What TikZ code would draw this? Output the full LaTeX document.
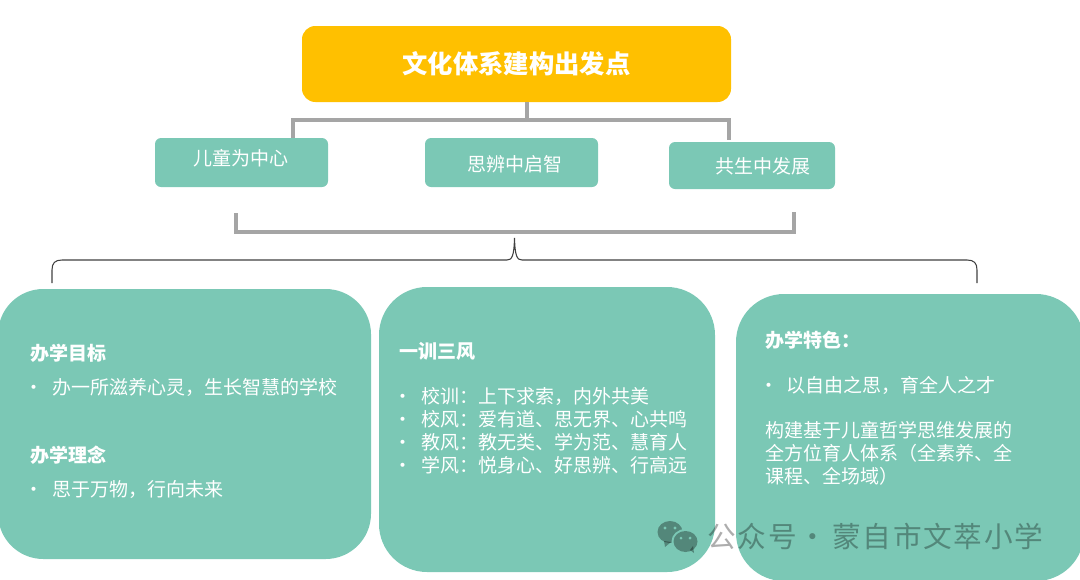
\documentclass[tikz,border=0pt]{standalone}
\usepackage{fontspec}
\setmainfont{Noto Sans CJK SC}
\newfontfamily\markfont[LetterSpace=6]{Noto Sans CJK SC}
\definecolor{boxgreen}{HTML}{7BC8B5}
\definecolor{titleorange}{HTML}{FFC000}
\definecolor{linegray}{HTML}{A5A5A5}
\definecolor{bracedark}{HTML}{404040}
\tikzset{
  titlebox/.style={fill=titleorange, rounded corners=10pt, minimum width=321.75pt, minimum height=57pt, inner sep=0pt},
  smallbox/.style={fill=boxgreen, rounded corners=4.5pt, inner sep=0pt},
  bigbox/.style={fill=boxgreen, rounded corners=36pt},
  linktree/.style={draw=linegray, line width=2.35pt},
  bracket/.style={draw=bracedark, line width=.8pt},
  bodytxt/.style={anchor=base west, inner sep=0pt, text=white, font=\fontsize{14.25pt}{14.25pt}\selectfont},
  headtxt/.style={bodytxt, font=\fontsize{14.25pt}{14.25pt}\selectfont\bfseries},
  marktxt/.style={anchor=base west, inner sep=0pt, text=black, text opacity=.32, font=\markfont\fontsize{21.5pt}{21.5pt}\selectfont},
}
\begin{document}
\begin{tikzpicture}[x=.75pt, y=-.75pt]
\useasboundingbox (0,0) rectangle (1080,579);

% big panels
\fill[bigbox, rounded corners=34pt] (-2,289) rectangle (371,559);
\fill[bigbox] (379,287) rectangle (715,572);
\fill[bigbox] (736,294) rectangle (1084,581);

% top part
\node[titlebox] (title) at (516.5,64) {};
\node[anchor=center, inner sep=0pt, text=white, font=\fontsize{19pt}{19pt}\selectfont\bfseries] (titletxt) at (title.center) {文化体系建构出发点};
\node[smallbox, minimum width=129.75pt, minimum height=36.75pt] (ertong) at (241.5,162.5) {};
\node[smallbox, minimum width=129.75pt, minimum height=36.75pt] (sibian) at (511.5,162.5) {};
\node[smallbox, minimum width=124.5pt, minimum height=35.25pt] (gongsheng) at (752,165.5) {};
\node[bodytxt] (ertongtxt) at (193,165) {儿童为中心};
\node[bodytxt] (sibiantxt) at (467,171) {思辨中启智};
\node[bodytxt] (gongshengtxt) at (715,173) {共生中发展};

% links
\coordinate (stem) at (527,120);
\coordinate (jl) at (293,120);
\coordinate (jr) at (729,120);
\draw[linktree] (title.south -| stem) -- (stem);
\draw[linktree] (ertong.north -| jl) -- (jl) -- (jr) -- ([yshift=1.5pt]gongsheng.north -| jr);

% bracket and brace
\coordinate (bl) at (236,213);
\coordinate (br) at (794,212);
\draw[linktree, line join=miter] (bl) -- (236,232) -- (794,232) -- (br);
\coordinate (cl) at (52,283);
\coordinate (cr) at (977,283);
\coordinate (ctip) at (514.5,238);
\draw[bracket] (cl) -- (52,270) .. controls (52,263) and (55,260) .. (62,260)
  -- (507,260) .. controls (512,260) and (514,256) .. (ctip)
  .. controls (515,256) and (517,260) .. (522,260)
  -- (967,260) .. controls (974,260) and (977,263) .. (977,270) -- (cr);

% left panel
\node[headtxt] (h1) at (30,360) {办学目标};
\node[bodytxt] (b1) at (24,394) {•};
\node[bodytxt] (t1) at (52,394) {办一所滋养心灵，生长智慧的学校};
\node[headtxt] (h2) at (30,462) {办学理念};
\node[bodytxt] (b2) at (24,496) {•};
\node[bodytxt] (t2) at (52,496) {思于万物，行向未来};

% middle panel
\node[headtxt] (h3) at (399,358) {一训三风};
\foreach \yy/\line in {403/校训：上下求索，内外共美,
                       426/校风：爱有道、思无界、心共鸣,
                       449/教风：教无类、学为范、慧育人,
                       472/学风：悦身心、好思辨、行高远} {
  \node[bodytxt] (bm\yy) at (393,\yy) {•};
  \node[bodytxt] (tm\yy) at (421,\yy) {\line};
}

% right panel
\node[headtxt] (h4) at (765,347) {办学特色：};
\node[bodytxt] (b4) at (759,392) {•};
\node[bodytxt] (t4) at (786,392) {以自由之思，育全人之才};
\foreach \yy/\line in {437/构建基于儿童哲学思维发展的,
                       460/全方位育人体系（全素养、全,
                       483/课程、全场域）} {
  \node[bodytxt] (tr\yy) at (765,\yy) {\line};
}

% mark
\fill[black, opacity=.32] (670,532) ellipse (12.5 and 11);
\fill[black, opacity=.32] (664,541) -- (665,547) -- (671,542) -- cycle;
\fill[boxgreen] (685.5,541.5) ellipse (14 and 12.5);
\fill[black, opacity=.32] (685.5,541.5) ellipse (12 and 10.5);
\fill[black, opacity=.32] (690,550) -- (694,553) -- (693,546) -- cycle;
\fill[boxgreen] (665,528) circle (1.7) (675,528) circle (1.7) (681,538) circle (1.5) (690,538) circle (1.5);
\node[marktxt] (marka) at (707,547) {公众号};
\node[marktxt] (markb) at (798,547) {·};
\node[marktxt] (markc) at (832,547) {蒙自市文萃小学};
\end{tikzpicture}
\end{document}
